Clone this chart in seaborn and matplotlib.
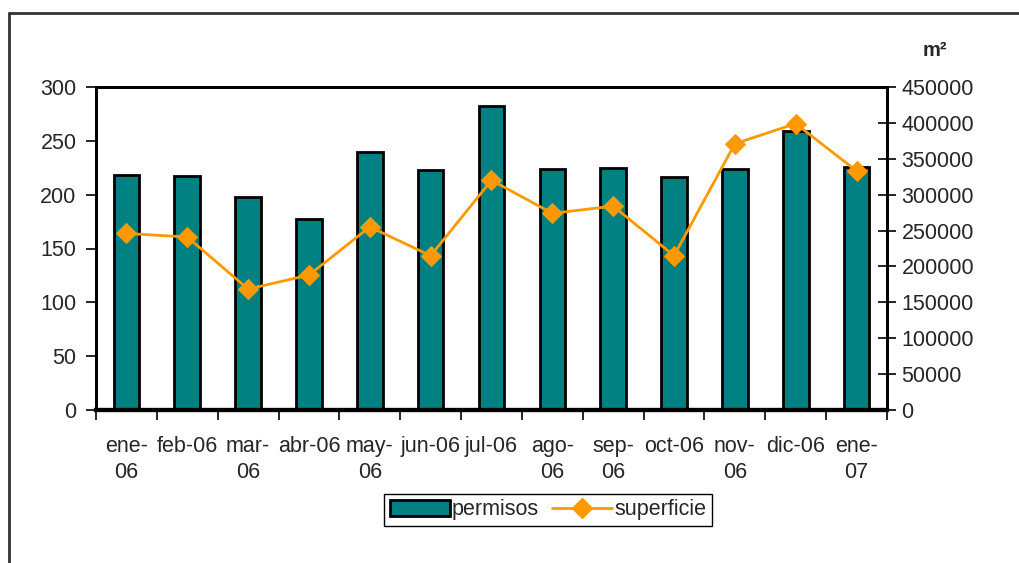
import numpy as np
import pandas as pd
import matplotlib.pyplot as plt
import seaborn as sns
from matplotlib.patches import Patch
from matplotlib.lines import Line2D

meses = ['ene-\n06', 'feb-06', 'mar-\n06', 'abr-06', 'may-\n06', 'jun-06', 'jul-06',
         'ago-\n06', 'sep-\n06', 'oct-06', 'nov-\n06', 'dic-06', 'ene-\n07']
permisos = [218, 217, 198, 177, 240, 223, 282, 224, 225, 216, 224, 259, 226]
superficie = [246000, 241000, 168500, 188000, 255000, 215000, 320000,
              274000, 284000, 215000, 371000, 399000, 333000]

sns.set_theme(style='white')
plt.rcParams['font.family'] = ['Liberation Sans', 'DejaVu Sans']

df = pd.DataFrame({'mes': meses, 'permisos': permisos, 'superficie': superficie,
                   'pos': np.arange(len(meses))})

fig = plt.figure(figsize=(10.19, 5.63), dpi=100)
ax = fig.add_axes([96 / 1019, 1 - 410 / 563, (887 - 96) / 1019, (410 - 87) / 563])

teal = '#008080'
orange = '#FF9900'
fs = 15.5

sns.barplot(data=df, x='mes', y='permisos', color=teal, width=0.42,
            edgecolor='black', linewidth=2, saturation=1, ax=ax)
ax.set_xlim(-0.5, len(meses) - 0.5)
ax.set_ylim(0, 300)
ax.set_yticks(range(0, 301, 50))
ax.set_xlabel('')
ax.set_ylabel('')

ax2 = ax.twinx()
sns.lineplot(data=df, x='pos', y='superficie', color=orange, marker='D',
             markersize=10, markeredgecolor=orange, linewidth=2, ax=ax2)
ax2.set_ylim(0, 450000)
ax2.set_yticks(range(0, 450001, 50000))
ax2.set_xlim(-0.5, len(meses) - 0.5)
ax2.set_ylabel('')
ax2.set_xlabel('')

for a in (ax, ax2):
    for s in a.spines.values():
        s.set_color('black')
        s.set_linewidth(2)
    a.spines['bottom'].set_linewidth(3)

ax.tick_params(axis='y', direction='out', length=7, width=1.2, color='black',
               labelsize=fs, pad=7, left=True)
ax.set_xticks(np.arange(len(meses)))
ax.set_xticklabels(meses, linespacing=1.3)
ax.set_xticks(np.arange(-0.5, len(meses)), minor=True)
ax.tick_params(axis='x', which='major', length=0, labelsize=fs, pad=19)
ax.tick_params(axis='x', which='minor', direction='out', length=7, width=1.2,
               color='black', bottom=True)
ax2.tick_params(axis='y', direction='inout', length=13, width=1.2, color='black',
                labelsize=fs, pad=4, right=True)

fig.text(935 / 1019, 1 - 50 / 563, 'm²', fontsize=14.5, fontweight='bold',
         ha='center', va='center')

handles = [Patch(facecolor=teal, edgecolor='black', linewidth=2),
           Line2D([0], [0], color=orange, linewidth=2, marker='D', markersize=10)]
fig.legend(handles, ['permisos', 'superficie'], loc='center',
           bbox_to_anchor=(548 / 1019, 1 - 510 / 563), ncol=2, fontsize=fs,
           frameon=True, fancybox=False, edgecolor='black', handlelength=2.8,
           handletextpad=0.1, columnspacing=0.6, borderpad=0.25, framealpha=1)

fig.add_artist(Line2D([9 / 1019, 9 / 1019], [0, 1 - 13 / 563],
                      transform=fig.transFigure, color='#333333', linewidth=2))
fig.add_artist(Line2D([9 / 1019, 1], [1 - 13 / 563, 1 - 13 / 563],
                      transform=fig.transFigure, color='#333333', linewidth=2))

fig.savefig('out.png', dpi=100)
